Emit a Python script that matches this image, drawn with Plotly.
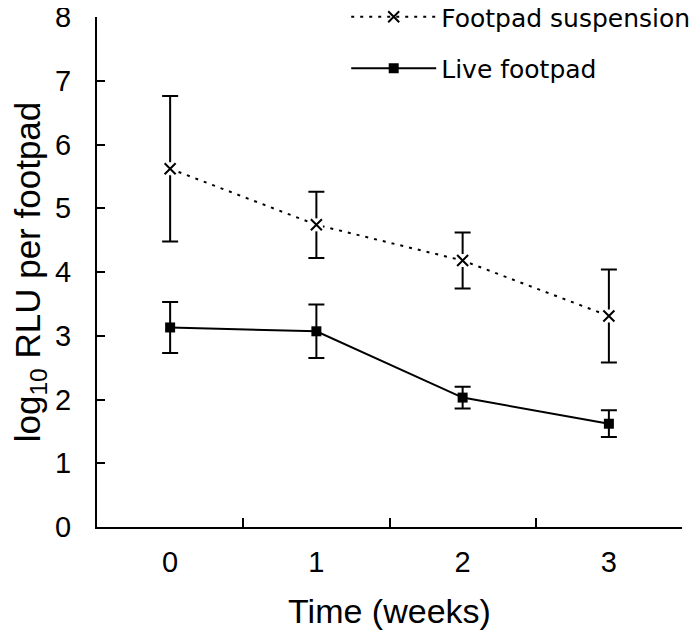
import plotly.graph_objects as go

weeks = ["0", "1", "2", "3"]
susp_mean = [5.62, 4.74, 4.18, 3.31]
susp_err = [1.14, 0.52, 0.44, 0.73]
live_mean = [3.13, 3.07, 2.03, 1.62]
live_err = [0.40, 0.42, 0.17, 0.21]
y_ticks = [0, 1, 2, 3, 4, 5, 6, 7, 8]

FONT = "Liberation Sans, Arial, sans-serif"

fig = go.Figure()

fig.add_trace(go.Scatter(
    x=weeks, y=susp_mean, name="Footpad suspension", mode="lines+markers",
    line=dict(color="black", width=2, dash="3px,6px"),
    marker=dict(symbol="x-thin", size=11, line=dict(color="black", width=2)),
    error_y=dict(type="data", array=susp_err, visible=True, color="black", thickness=2, width=8),
    legendgroup="a",
))
# white patch behind the cross (gap in error bar like the original)
fig.add_trace(go.Scatter(
    x=weeks, y=susp_mean, mode="markers", showlegend=False, hoverinfo="skip",
    marker=dict(symbol="square", size=13, color="white", line=dict(width=0)),
))
fig.add_trace(go.Scatter(
    x=weeks, y=susp_mean, mode="markers", showlegend=False, hoverinfo="skip",
    marker=dict(symbol="x-thin", size=11, line=dict(color="black", width=2)),
))
fig.add_trace(go.Scatter(
    x=weeks, y=live_mean, name="Live footpad", mode="lines+markers",
    line=dict(color="black", width=2),
    marker=dict(symbol="square", size=10, color="black"),
    error_y=dict(type="data", array=live_err, visible=True, color="black", thickness=2, width=8),
    legendgroup="b",
))

# the page body adds an 8px offset, so the figure is sized 692x625
fig.update_layout(
    width=692, height=625,
    margin=dict(l=89, r=18, t=9, b=106, autoexpand=False),
    paper_bgcolor="white", plot_bgcolor="white",
    font=dict(family=FONT, color="black"),
    showlegend=True,
    legend=dict(
        x=0.426, y=1.045, xanchor="left", yanchor="top",
        font=dict(family="DejaVu Sans, Verdana, sans-serif", size=25, color="black"),
        bgcolor="rgba(0,0,0,0)", itemwidth=85, tracegroupgap=16,
        traceorder="grouped",
    ),
    xaxis=dict(
        type="category", range=[-0.5, 3.5], tickson="boundaries",
        ticks="inside", ticklen=9, tickwidth=2, tickcolor="black",
        showline=True, linecolor="black", linewidth=2, showgrid=False, zeroline=False,
        tickfont=dict(size=29), ticklabelstandoff=8, ticklabeloverflow="allow",
        title=dict(text="Time (weeks)", font=dict(size=34), standoff=22),
    ),
    yaxis=dict(
        range=[0, 8], tickvals=y_ticks, ticks="inside", ticklen=8, tickwidth=2,
        tickcolor="black", showline=True, linecolor="black", linewidth=2,
        showgrid=False, zeroline=False, ticklabeloverflow="allow",
        tickfont=dict(size=29), ticklabelstandoff=18,
        title=dict(text="log<sub>10</sub> RLU per footpad", font=dict(size=35), standoff=31),
    ),
)

fig.write_html("out.html")
